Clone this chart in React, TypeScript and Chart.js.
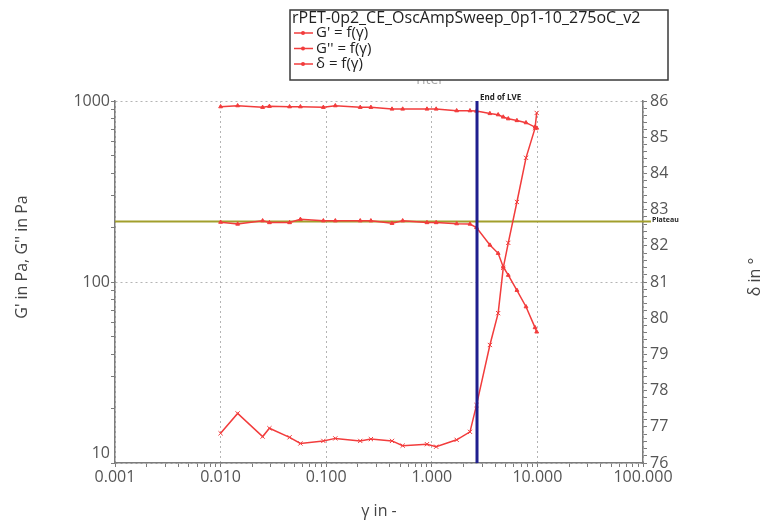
import React, { useEffect, useRef } from 'react';
import { Chart, registerables } from 'chart.js';

Chart.register(...registerables);

// ---- data ----
const gamma = [0.01, 0.0145, 0.025, 0.029, 0.045, 0.057, 0.094, 0.122, 0.21, 0.265, 0.42, 0.53, 0.9, 1.1, 1.72, 2.3, 2.65, 3.55, 4.25, 4.75, 5.3, 6.4, 7.8, 9.5, 9.85];
const gStorage = [214, 209, 218, 213, 213, 222, 218, 218, 218, 218, 211, 218, 213, 213, 210, 209, 200, 160, 144, 121, 109, 90, 73, 56, 53];
const gLoss = [930, 942, 923, 935, 930, 930, 923, 942, 923, 923, 903, 903, 903, 903, 884, 884, 880, 853, 840, 816, 798, 780, 759, 718, 709];
const delta = [76.82, 77.37, 76.73, 76.96, 76.71, 76.54, 76.61, 76.68, 76.61, 76.66, 76.61, 76.48, 76.52, 76.45, 76.64, 76.86, 77.6, 79.26, 80.14, 81.39, 82.08, 83.21, 84.43, 85.25, 85.67];

const seriesLabels = ["G' = f(\u03b3)", "G'' = f(\u03b3)", "\u03b4 = f(\u03b3)"];
const legendTitle = 'rPET-0p2_CE_OscAmpSweep_0p1-10_275oC_v2';
const xTickValues = [0.001, 0.01, 0.1, 1, 10, 100];
const xTickLabels = ['0.001', '0.010', '0.100', '1.000', '10.000', '100.000'];
const yTickValues = [10, 100, 1000];
const yTickLabels = ['10', '100', '1000'];
const deltaMin = 76;
const deltaMax = 86;
const LVE_END = 2.68;
const PLATEAU = 216;
const xTitle = '\u03b3 in -';
const yTitle = "G' in Pa, G'' in Pa";
const y1Title = '\u03b4 in \u00b0';
const lveLabel = 'End of LVE';
const plateauLabel = 'Plateau';
const hiddenTitle = 'Titel';

// ---- styles ----
const FONT = '"Open Sans", "DejaVu Sans", sans-serif';
const RED = '#f23c3c';
const GRID = '#b4b4b4';
const AXIS = '#7c7c7c';
const TICK = '#555555';

function logTicks(min: number, max: number) {
  const out: any[] = [];
  const e0 = Math.round(Math.log10(min));
  const e1 = Math.round(Math.log10(max));
  for (let e = e0; e < e1; e++) {
    for (let k = 1; k < 10; k++) {
      out.push({ value: parseFloat((k * Math.pow(10, e)).toPrecision(6)), major: k === 1 });
    }
  }
  out.push({ value: max, major: true });
  return out;
}

function linTicks(min: number, max: number, step: number) {
  const out: any[] = [];
  const n = Math.round((max - min) / step);
  for (let i = 0; i <= n; i++) {
    const v = Math.round((min + i * step) * 1000) / 1000;
    out.push({ value: v, major: Math.abs(v - Math.round(v)) < 1e-6 });
  }
  return out;
}

const overlay = {
  id: 'overlay',
  beforeDatasetsDraw(chart: any) {
    const { ctx, chartArea, scales } = chart;
    const y = scales.y.getPixelForValue(PLATEAU);
    ctx.save();
    ctx.strokeStyle = '#a29f2c';
    ctx.lineWidth = 2;
    ctx.beginPath();
    ctx.moveTo(chartArea.left, y);
    ctx.lineTo(chartArea.right + 8, y);
    ctx.stroke();
    ctx.restore();
  },
  afterDatasetsDraw(chart: any) {
    const { ctx, chartArea, scales } = chart;
    const x = scales.x.getPixelForValue(LVE_END);
    ctx.save();
    ctx.strokeStyle = '#1f1f8f';
    ctx.lineWidth = 3;
    ctx.beginPath();
    ctx.moveTo(x, chartArea.top);
    ctx.lineTo(x, chartArea.bottom);
    ctx.stroke();
    ctx.fillStyle = '#222';
    ctx.font = 'bold 8px ' + FONT;
    ctx.textBaseline = 'middle';
    ctx.textAlign = 'left';
    ctx.fillText(lveLabel, x + 3, chartArea.top - 3);
    const yp = scales.y.getPixelForValue(PLATEAU);
    ctx.font = 'bold 7px ' + FONT;
    ctx.fillText(plateauLabel, chartArea.right + 9, yp - 1);
    ctx.restore();
  },
  afterDraw(chart: any) {
    const { ctx, chartArea } = chart;
    ctx.save();
    ctx.fillStyle = '#444';
    ctx.font = '16px ' + FONT;
    ctx.textAlign = 'center';
    ctx.textBaseline = 'middle';
    ctx.fillText(xTitle, (chartArea.left + chartArea.right) / 2, 511);
    ctx.save();
    ctx.translate(22, 257);
    ctx.rotate(-Math.PI / 2);
    ctx.fillText(yTitle, 0, 0);
    ctx.restore();
    ctx.save();
    ctx.translate(755, 277);
    ctx.rotate(-Math.PI / 2);
    ctx.fillText(y1Title, 0, 0);
    ctx.restore();

    // hidden chart title peeking under the legend
    ctx.fillStyle = '#aaa';
    ctx.font = '14px ' + FONT;
    ctx.textBaseline = 'alphabetic';
    ctx.fillText(hiddenTitle, 428, 84);

    // legend box
    const bx = 290, by = 10, bw = 378, bh = 70;
    ctx.fillStyle = '#fff';
    ctx.fillRect(bx, by, bw, bh);
    ctx.strokeStyle = '#3a3a3a';
    ctx.lineWidth = 1.5;
    ctx.strokeRect(bx, by, bw, bh);
    ctx.fillStyle = '#222';
    ctx.font = '16px ' + FONT;
    ctx.textAlign = 'left';
    ctx.textBaseline = 'middle';
    ctx.fillText(legendTitle, bx + 2, by + 8);
    ctx.font = '15px ' + FONT;
    chart.data.datasets.forEach((ds: any, i: number) => {
      const ry = by + 23 + i * 15.5;
      ctx.strokeStyle = ds.borderColor;
      ctx.lineWidth = 1.5;
      ctx.beginPath();
      ctx.moveTo(bx + 4, ry);
      ctx.lineTo(bx + 23, ry);
      ctx.stroke();
      ctx.fillStyle = ds.borderColor;
      ctx.beginPath();
      ctx.arc(bx + 13, ry, 2, 0, Math.PI * 2);
      ctx.fill();
      ctx.fillStyle = '#222';
      ctx.fillText(ds.label, bx + 26, ry);
    });
    ctx.restore();
  },
};

export default function App() {
  const ref = useRef<HTMLCanvasElement | null>(null);

  useEffect(() => {
    if (!ref.current) return;
    const mk = (ys: number[]) => gamma.map((g, i) => ({ x: g, y: ys[i] }));
    const common = {
      borderColor: RED,
      backgroundColor: RED,
      borderWidth: 1.5,
      pointRadius: 2.2,
      pointBorderWidth: 1,
      tension: 0,
    };
    const chart = new Chart(ref.current, {
      type: 'line',
      data: {
        datasets: [
          { ...common, label: seriesLabels[0], data: mk(gStorage), yAxisID: 'y', pointStyle: 'triangle' },
          { ...common, label: seriesLabels[1], data: mk(gLoss), yAxisID: 'y', pointStyle: 'triangle' },
          { ...common, label: seriesLabels[2], data: mk(delta), yAxisID: 'y1', pointStyle: 'crossRot', pointRadius: 3 },
        ],
      },
      options: {
        animation: false,
        responsive: false,
        layout: { padding: { top: 101, left: 0, right: 0, bottom: 0 } },
        plugins: { legend: { display: false }, tooltip: { enabled: false }, title: { display: false } },
        scales: {
          x: {
            type: 'logarithmic',
            position: 'bottom',
            min: xTickValues[0],
            max: xTickValues[xTickValues.length - 1],
            afterBuildTicks: (s: any) => { s.ticks = logTicks(xTickValues[0], xTickValues[xTickValues.length - 1]); },
            afterFit: (s: any) => { s.height = 57; },
            ticks: {
              autoSkip: false,
              maxRotation: 0,
              padding: 1,
              color: TICK,
              font: { family: FONT, size: 16 },
              callback: (v: any) => {
                const i = xTickValues.findIndex((t) => Math.abs(t - v) / t < 1e-6);
                return i >= 0 ? xTickLabels[i] : '';
              },
            },
            grid: {
              color: (c: any) => (c.tick && c.tick.major ? GRID : 'rgba(0,0,0,0)'),
              tickColor: AXIS,
              tickLength: 4,
              lineWidth: 1,
            },
            border: { display: true, color: AXIS, width: 1.5, dash: [2, 3] },
          },
          y: {
            type: 'logarithmic',
            position: 'left',
            min: yTickValues[0],
            max: yTickValues[yTickValues.length - 1],
            afterBuildTicks: (s: any) => { s.ticks = logTicks(yTickValues[0], yTickValues[yTickValues.length - 1]); },
            afterFit: (s: any) => { s.width = 115; },
            ticks: {
              autoSkip: false,
              padding: 1,
              color: TICK,
              font: { family: FONT, size: 16 },
              callback: (v: any) => {
                const i = yTickValues.findIndex((t) => Math.abs(t - v) / t < 1e-6);
                if (i < 0) return '';
                return i === 0 ? [yTickLabels[i], ''] : yTickLabels[i];
              },
            },
            grid: {
              color: (c: any) => (c.tick && c.tick.major ? GRID : 'rgba(0,0,0,0)'),
              tickColor: AXIS,
              tickLength: 4,
              lineWidth: 1,
            },
            border: { display: true, color: AXIS, width: 1.5, dash: [2, 3] },
          },
          y1: {
            type: 'linear',
            position: 'right',
            min: deltaMin,
            max: deltaMax,
            afterBuildTicks: (s: any) => { s.ticks = linTicks(deltaMin, deltaMax, 0.2); },
            afterFit: (s: any) => { s.width = 122; },
            ticks: {
              autoSkip: false,
              padding: 3,
              color: TICK,
              font: { family: FONT, size: 16 },
              callback: (v: any) => (Math.abs(v - Math.round(v)) < 1e-6 ? String(Math.round(v)) : ''),
            },
            grid: { drawOnChartArea: false, tickColor: AXIS, tickLength: 4 },
            border: { display: true, color: AXIS, width: 1.5 },
          },
        },
      },
      plugins: [overlay],
    } as any);
    return () => chart.destroy();
  }, []);

  return (
    <div style={{ position: 'fixed', left: 0, top: 0, width: 765, height: 520, background: '#fff' }}>
      <canvas ref={ref} width={765} height={520} style={{ display: 'block' }} />
    </div>
  );
}
